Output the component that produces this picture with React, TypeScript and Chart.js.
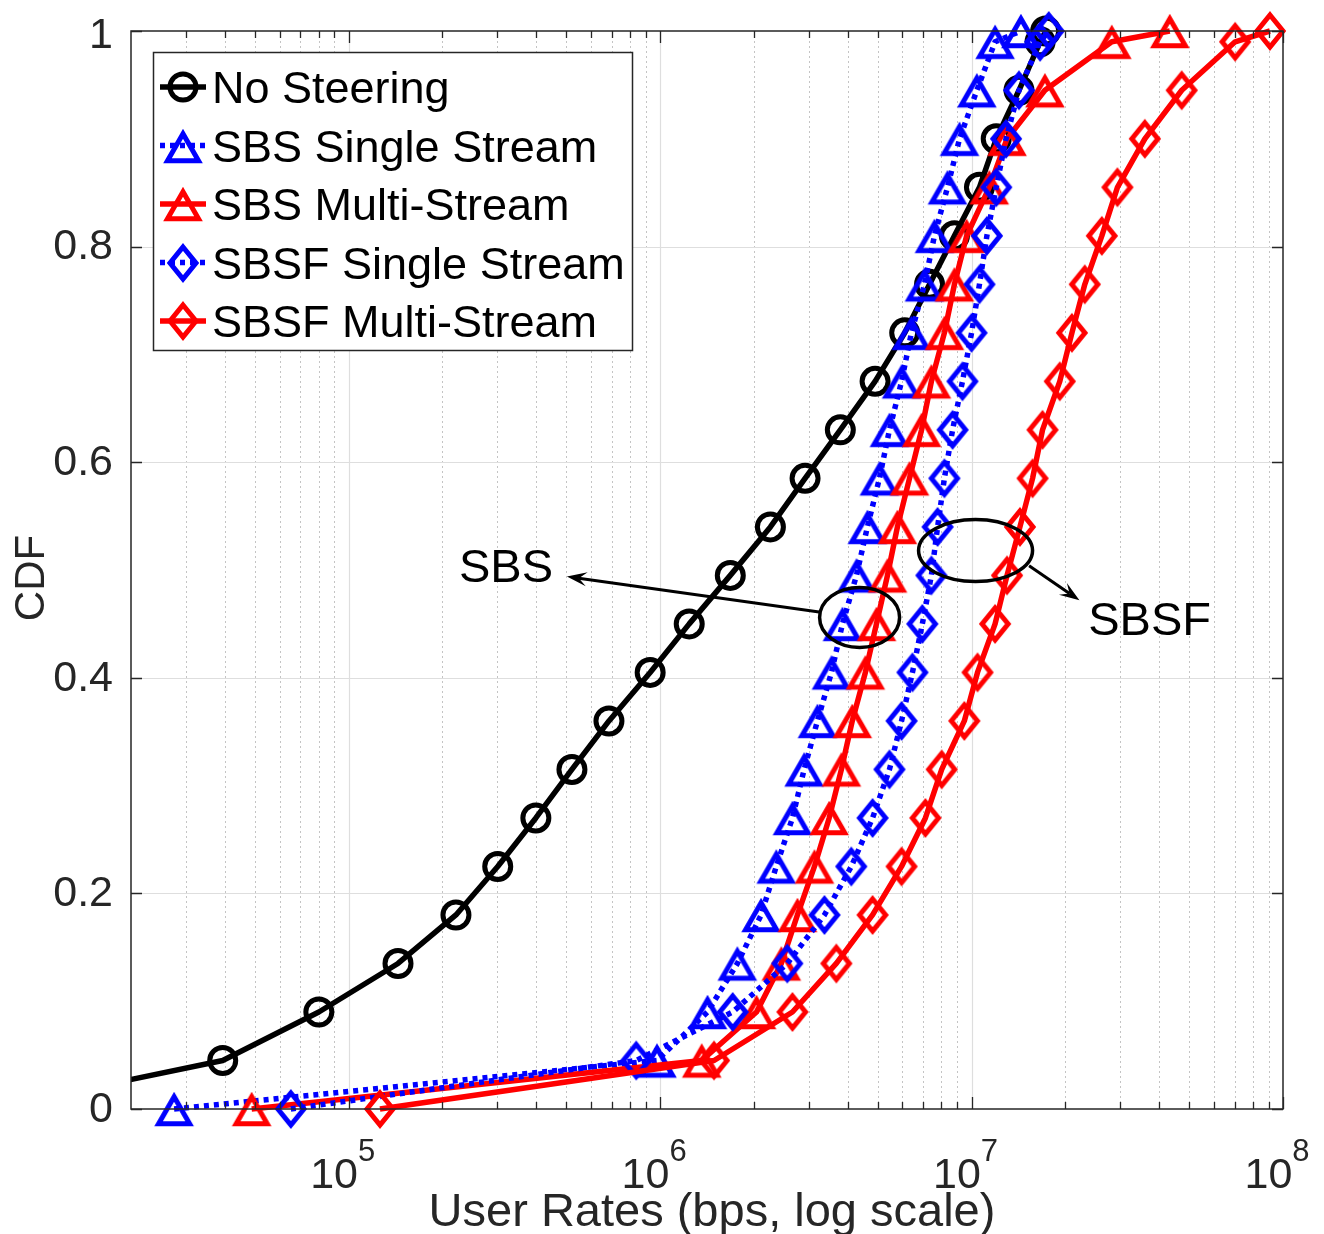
import React, { useEffect, useRef } from 'react';
import { Chart, registerables } from 'chart.js';

Chart.register(...registerables);

const FONT = '"Liberation Sans", Arial, Helvetica, sans-serif';

// ---------------- DATA ----------------
const seriesNames = [
  'No Steering',
  'SBS Single Stream',
  'SBS Multi-Stream',
  'SBSF Single Stream',
  'SBSF Multi-Stream',
];

const noSteeringRate = [1.2e4, 3.94e4, 8.02e4, 1.44e5, 2.21e5, 3.01e5, 3.99e5, 5.21e5, 6.85e5, 9.29e5, 1.24e6, 1.68e6, 2.26e6, 2.92e6, 3.79e6, 4.9e6, 6.1e6, 7.33e6, 8.81e6, 1.06e7, 1.2e7, 1.42e7, 1.66e7, 1.73e7];
const noSteeringCdf = [0.014, 0.045, 0.09, 0.135, 0.18, 0.225, 0.27, 0.315, 0.36, 0.405, 0.45, 0.495, 0.54, 0.585, 0.63, 0.675, 0.72, 0.765, 0.81, 0.855, 0.9, 0.945, 0.99, 1.0];

const sbsSingleRate = [2.75e4, 9.77e5, 1.42e6, 1.77e6, 2.11e6, 2.36e6, 2.66e6, 2.9e6, 3.2e6, 3.55e6, 3.85e6, 4.27e6, 4.63e6, 5.06e6, 5.45e6, 5.96e6, 6.41e6, 7.06e6, 7.6e6, 8.37e6, 9.15e6, 1.04e7, 1.19e7, 1.44e7];
const sbsSingleCdf = [0, 0.045, 0.09, 0.135, 0.18, 0.225, 0.27, 0.315, 0.36, 0.405, 0.45, 0.495, 0.54, 0.585, 0.63, 0.675, 0.72, 0.765, 0.81, 0.855, 0.9, 0.945, 0.99, 1.0];

const sbsMultiRate = [4.88e4, 1.36e6, 2.04e6, 2.45e6, 2.76e6, 3.13e6, 3.49e6, 3.82e6, 4.14e6, 4.56e6, 4.95e6, 5.37e6, 5.78e6, 6.32e6, 6.91e6, 7.43e6, 8.18e6, 8.81e6, 9.64e6, 1.14e7, 1.3e7, 1.72e7, 2.82e7, 4.33e7];
const sbsMultiCdf = [0, 0.045, 0.09, 0.135, 0.18, 0.225, 0.27, 0.315, 0.36, 0.405, 0.45, 0.495, 0.54, 0.585, 0.63, 0.675, 0.72, 0.765, 0.81, 0.855, 0.9, 0.945, 0.99, 1.0];

const sbsfSingleRate = [6.52e4, 8.38e5, 1.71e6, 2.56e6, 3.37e6, 4.11e6, 4.81e6, 5.45e6, 5.96e6, 6.46e6, 6.95e6, 7.43e6, 7.78e6, 8.18e6, 8.69e6, 9.35e6, 1.0e7, 1.06e7, 1.12e7, 1.2e7, 1.29e7, 1.42e7, 1.66e7, 1.77e7];
const sbsfSingleCdf = [0, 0.045, 0.09, 0.135, 0.18, 0.225, 0.27, 0.315, 0.36, 0.405, 0.45, 0.495, 0.54, 0.585, 0.63, 0.675, 0.72, 0.765, 0.81, 0.855, 0.9, 0.945, 0.99, 1.0];

const sbsfMultiRate = [1.26e5, 1.49e6, 2.66e6, 3.68e6, 4.81e6, 5.96e6, 7.11e6, 8.02e6, 9.48e6, 1.045e7, 1.19e7, 1.3e7, 1.43e7, 1.57e7, 1.69e7, 1.92e7, 2.1e7, 2.31e7, 2.62e7, 2.94e7, 3.6e7, 4.73e7, 7.02e7, 9.08e7];
const sbsfMultiCdf = [0, 0.045, 0.09, 0.135, 0.18, 0.225, 0.27, 0.315, 0.36, 0.405, 0.45, 0.495, 0.54, 0.585, 0.63, 0.675, 0.72, 0.765, 0.81, 0.855, 0.9, 0.945, 0.99, 1.0];

const xMin = 2e4;
const xMax = 1e8;
const xDecadeExponents = [5, 6, 7, 8];
const xMinorExponents = [4, 5, 6, 7];
const xMinorMultipliers = [2, 3, 4, 5, 6, 7, 8, 9];
const yTickValues = [0, 0.2, 0.4, 0.6, 0.8, 1];
const yTickLabels = ['0', '0.2', '0.4', '0.6', '0.8', '1'];

const xTitle = 'User Rates (bps, log scale)';
const yTitle = 'CDF';

// annotations (data coordinates)
const sbsLabel = { text: 'SBS', x: 3.2e5, y: 0.501 };
const sbsEllipse = { x: 4.37e6, y: 0.456 };
const sbsArrow = { x1: 3.24e6, y1: 0.461, x2: 5.02e5, y2: 0.494 };
const sbsfLabel = { text: 'SBSF', x: 3.73e7, y: 0.452 };
const sbsfEllipse = { x: 1.03e7, y: 0.518 };
const sbsfArrow = { x1: 1.53e7, y1: 0.504, x2: 2.22e7, y2: 0.472 };

// ---------------- STYLE ----------------
const BLUE = '#0000ff';
const RED = '#ff0000';
const BLACK = '#000000';
const AXIS = '#262626';
const MARKER_LW = 5;

function triangleMarker(color: string) {
  const c = document.createElement('canvas');
  c.width = 48;
  c.height = 44;
  const g = c.getContext('2d')!;
  g.strokeStyle = color;
  g.lineWidth = MARKER_LW;
  g.lineJoin = 'miter';
  const cx = 24, cy = 22, w = 31, h = 27, off = 1.2;
  g.beginPath();
  g.moveTo(cx, cy - h / 2 + off);
  g.lineTo(cx + w / 2, cy + h / 2 + off);
  g.lineTo(cx - w / 2, cy + h / 2 + off);
  g.closePath();
  g.stroke();
  return c;
}

function diamondMarker(color: string) {
  const c = document.createElement('canvas');
  c.width = 42;
  c.height = 48;
  const g = c.getContext('2d')!;
  g.strokeStyle = color;
  g.lineWidth = MARKER_LW;
  g.lineJoin = 'miter';
  const cx = 21, cy = 24, w = 26, h = 32;
  g.beginPath();
  g.moveTo(cx, cy - h / 2);
  g.lineTo(cx + w / 2, cy);
  g.lineTo(cx, cy + h / 2);
  g.lineTo(cx - w / 2, cy);
  g.closePath();
  g.stroke();
  return c;
}

function drawArrow(ctx: CanvasRenderingContext2D, x1: number, y1: number, x2: number, y2: number) {
  const ang = Math.atan2(y2 - y1, x2 - x1);
  const len = 20, half = 7, notch = 12;
  ctx.beginPath();
  ctx.moveTo(x1, y1);
  ctx.lineTo(x2 - Math.cos(ang) * notch, y2 - Math.sin(ang) * notch);
  ctx.stroke();
  const bx = x2 - Math.cos(ang) * len, by = y2 - Math.sin(ang) * len;
  const nx = -Math.sin(ang), ny = Math.cos(ang);
  ctx.beginPath();
  ctx.moveTo(x2, y2);
  ctx.lineTo(bx + nx * half, by + ny * half);
  ctx.lineTo(x2 - Math.cos(ang) * notch, y2 - Math.sin(ang) * notch);
  ctx.lineTo(bx - nx * half, by - ny * half);
  ctx.closePath();
  ctx.fill();
}

export default function App() {
  const ref = useRef<HTMLCanvasElement>(null);

  useEffect(() => {
    const canvas = ref.current!;
    const triBlue = triangleMarker(BLUE);
    const triRed = triangleMarker(RED);
    const diaBlue = diamondMarker(BLUE);
    const diaRed = diamondMarker(RED);

    const toPoints = (r: number[], c: number[]) => r.map((v, i) => ({ x: v, y: c[i] }));
    const clip = { left: 0, top: 25, right: 25, bottom: 25 };

    const series = [
      { label: seriesNames[0], data: toPoints(noSteeringRate, noSteeringCdf), color: BLACK, dash: [] as number[], marker: 'circle' as any },
      { label: seriesNames[1], data: toPoints(sbsSingleRate, sbsSingleCdf), color: BLUE, dash: [5, 5], marker: triBlue },
      { label: seriesNames[2], data: toPoints(sbsMultiRate, sbsMultiCdf), color: RED, dash: [], marker: triRed },
      { label: seriesNames[3], data: toPoints(sbsfSingleRate, sbsfSingleCdf), color: BLUE, dash: [5, 5], marker: diaBlue },
      { label: seriesNames[4], data: toPoints(sbsfMultiRate, sbsfMultiCdf), color: RED, dash: [], marker: diaRed },
    ];

    const datasets = series.map((s, idx) => ({
      label: s.label,
      data: s.data,
      showLine: true,
      borderColor: s.color,
      borderWidth: 5.5,
      borderDash: s.dash,
      borderCapStyle: 'butt' as const,
      borderJoinStyle: 'round' as const,
      tension: 0,
      fill: false,
      pointStyle: s.marker,
      pointRadius: idx === 0 ? s.data.map((p) => (p.x < xMin ? 0 : 13)) : 16,
      pointBorderWidth: MARKER_LW,
      pointBorderColor: s.color,
      pointBackgroundColor: 'rgba(0,0,0,0)',
      clip,
      order: -idx,
    }));

    const axesPlugin = {
      id: 'matlabAxes',
      beforeDatasetsDraw(chart: any) {
        const { ctx, chartArea: a, scales } = chart;
        const x = scales.x, y = scales.y;
        ctx.save();
        // minor x grid
        ctx.strokeStyle = '#c4c4c4';
        ctx.lineWidth = 1;
        ctx.setLineDash([2, 3]);
        for (const e of xMinorExponents) {
          for (const m of xMinorMultipliers) {
            const v = m * Math.pow(10, e);
            if (v <= xMin || v >= xMax) continue;
            const px = Math.round(x.getPixelForValue(v)) + 0.5;
            ctx.beginPath();
            ctx.moveTo(px, a.top);
            ctx.lineTo(px, a.bottom);
            ctx.stroke();
          }
        }
        // major grid
        ctx.setLineDash([]);
        ctx.strokeStyle = '#dedede';
        ctx.lineWidth = 1.2;
        for (const e of xDecadeExponents) {
          const v = Math.pow(10, e);
          if (v <= xMin || v >= xMax) continue;
          const px = Math.round(x.getPixelForValue(v)) + 0.5;
          ctx.beginPath();
          ctx.moveTo(px, a.top);
          ctx.lineTo(px, a.bottom);
          ctx.stroke();
        }
        for (const t of yTickValues) {
          if (t <= 0 || t >= 1) continue;
          const py = Math.round(y.getPixelForValue(t)) + 0.5;
          ctx.beginPath();
          ctx.moveTo(a.left, py);
          ctx.lineTo(a.right, py);
          ctx.stroke();
        }
        ctx.restore();
      },
      afterDatasetsDraw(chart: any) {
        const { ctx, chartArea: a, scales } = chart;
        const x = scales.x, y = scales.y;
        ctx.save();
        // box
        ctx.strokeStyle = AXIS;
        ctx.lineWidth = 1.5;
        ctx.strokeRect(a.left, a.top, a.right - a.left, a.bottom - a.top);
        // ticks
        ctx.lineWidth = 1.3;
        for (const e of xMinorExponents) {
          for (const m of xMinorMultipliers) {
            const v = m * Math.pow(10, e);
            if (v <= xMin || v >= xMax) continue;
            const px = Math.round(x.getPixelForValue(v)) + 0.5;
            ctx.beginPath();
            ctx.moveTo(px, a.bottom); ctx.lineTo(px, a.bottom - 7);
            ctx.moveTo(px, a.top); ctx.lineTo(px, a.top + 7);
            ctx.stroke();
          }
        }
        for (const e of xDecadeExponents) {
          const px = Math.round(x.getPixelForValue(Math.pow(10, e))) + 0.5;
          ctx.beginPath();
          ctx.moveTo(px, a.bottom); ctx.lineTo(px, a.bottom - 12);
          ctx.moveTo(px, a.top); ctx.lineTo(px, a.top + 12);
          ctx.stroke();
        }
        for (const t of yTickValues) {
          const py = Math.round(y.getPixelForValue(t)) + 0.5;
          ctx.beginPath();
          ctx.moveTo(a.left, py); ctx.lineTo(a.left + 11, py);
          ctx.moveTo(a.right, py); ctx.lineTo(a.right - 11, py);
          ctx.stroke();
        }
        // y tick labels
        ctx.fillStyle = AXIS;
        ctx.font = `43px ${FONT}`;
        ctx.textAlign = 'right';
        ctx.textBaseline = 'middle';
        yTickValues.forEach((t, i) => {
          const py = y.getPixelForValue(t) + (t === 1 ? 5 : 1);
          ctx.fillText(yTickLabels[i], a.left - 18, py);
        });
        // x tick labels 10^k
        ctx.textAlign = 'left';
        ctx.textBaseline = 'alphabetic';
        for (const e of xDecadeExponents) {
          const px = x.getPixelForValue(Math.pow(10, e));
          ctx.font = `43px ${FONT}`;
          const bw = ctx.measureText('10').width;
          ctx.font = `31px ${FONT}`;
          const ew = ctx.measureText(String(e)).width;
          const start = px - 6 - (bw + ew) / 2;
          ctx.font = `43px ${FONT}`;
          ctx.fillText('10', start, a.bottom + 79);
          ctx.font = `31px ${FONT}`;
          ctx.fillText(String(e), start + bw, a.bottom + 52);
        }
        // axis titles
        ctx.font = `47px ${FONT}`;
        ctx.textAlign = 'center';
        ctx.fillText(xTitle, 712, a.bottom + 117);
        ctx.save();
        ctx.translate(44, 578);
        ctx.rotate(-Math.PI / 2);
        ctx.font = `42px ${FONT}`;
        ctx.fillText(yTitle, 0, 0);
        ctx.restore();

        // annotations
        ctx.strokeStyle = BLACK;
        ctx.fillStyle = BLACK;
        ctx.lineWidth = 3.5;
        const ex1 = x.getPixelForValue(sbsEllipse.x), ey1 = y.getPixelForValue(sbsEllipse.y);
        ctx.beginPath();
        ctx.ellipse(ex1, ey1, 40, 30, 0, 0, Math.PI * 2);
        ctx.stroke();
        const ex2 = x.getPixelForValue(sbsfEllipse.x), ey2 = y.getPixelForValue(sbsfEllipse.y);
        ctx.beginPath();
        ctx.ellipse(ex2, ey2, 57, 31, 0, 0, Math.PI * 2);
        ctx.stroke();
        ctx.lineWidth = 3;
        drawArrow(ctx, x.getPixelForValue(sbsArrow.x1), y.getPixelForValue(sbsArrow.y1), x.getPixelForValue(sbsArrow.x2), y.getPixelForValue(sbsArrow.y2));
        drawArrow(ctx, x.getPixelForValue(sbsfArrow.x1), y.getPixelForValue(sbsfArrow.y1), x.getPixelForValue(sbsfArrow.x2), y.getPixelForValue(sbsfArrow.y2));
        ctx.font = `47px ${FONT}`;
        ctx.textAlign = 'center';
        ctx.textBaseline = 'middle';
        ctx.fillText(sbsLabel.text, x.getPixelForValue(sbsLabel.x), y.getPixelForValue(sbsLabel.y));
        ctx.fillText(sbsfLabel.text, x.getPixelForValue(sbsfLabel.x), y.getPixelForValue(sbsfLabel.y));

        // legend
        const lx = 153, ly = 52, lw = 479, lh = 298;
        ctx.fillStyle = '#ffffff';
        ctx.fillRect(lx, ly, lw, lh);
        ctx.strokeStyle = AXIS;
        ctx.lineWidth = 1.5;
        ctx.strokeRect(lx + 0.5, ly + 0.5, lw, lh);
        const rowY = [87, 145.5, 204, 262.5, 321];
        series.forEach((s, i) => {
          const cy = rowY[i];
          ctx.strokeStyle = s.color;
          ctx.lineWidth = 5.5;
          ctx.setLineDash(s.dash);
          ctx.beginPath();
          ctx.moveTo(160, cy);
          ctx.lineTo(206, cy);
          ctx.stroke();
          ctx.setLineDash([]);
          if (s.marker === 'circle') {
            ctx.lineWidth = MARKER_LW;
            ctx.beginPath();
            ctx.arc(183, cy, 13, 0, Math.PI * 2);
            ctx.stroke();
          } else {
            const m = s.marker as HTMLCanvasElement;
            ctx.drawImage(m, Math.round(183 - m.width / 2), Math.round(cy - m.height / 2));
          }
          ctx.fillStyle = BLACK;
          ctx.font = `45px ${FONT}`;
          ctx.textAlign = 'left';
          ctx.textBaseline = 'alphabetic';
          ctx.fillText(s.label, 212, cy + 16);
        });
        ctx.restore();
      },
    };

    const chart = new Chart(canvas, {
      type: 'scatter',
      data: { datasets: datasets as any },
      options: {
        responsive: false,
        animation: false,
        devicePixelRatio: 1,
        layout: { padding: { left: 0, top: 31, right: 41, bottom: 0 } },
        plugins: {
          legend: { display: false },
          tooltip: { enabled: false },
        },
        scales: {
          x: {
            type: 'logarithmic',
            min: xMin,
            max: xMax,
            grid: { display: false, drawTicks: false },
            border: { display: false },
            ticks: { display: false },
            afterFit: (s: any) => { s.height = 125; },
          },
          y: {
            type: 'linear',
            min: 0,
            max: 1,
            grid: { display: false, drawTicks: false },
            border: { display: false },
            ticks: { display: false, stepSize: 0.2 },
            afterFit: (s: any) => { s.width = 131; },
          },
        },
      } as any,
      plugins: [axesPlugin],
    });
    return () => chart.destroy();
  }, []);

  return (
    <div style={{ position: 'absolute', left: 0, top: 0, width: 1324, height: 1234, background: '#ffffff' }}>
      <canvas ref={ref} width={1324} height={1234} style={{ display: 'block', width: 1324, height: 1234 }} />
    </div>
  );
}
